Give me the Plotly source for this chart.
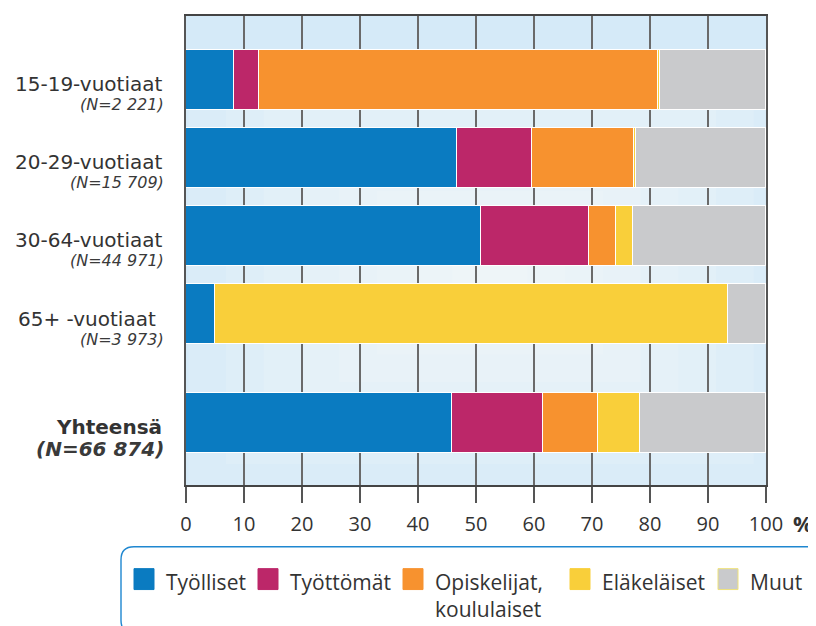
import plotly.graph_objects as go

# ---------------- data ----------------
groups = ["15-19-vuotiaat", "20-29-vuotiaat", "30-64-vuotiaat", "65+ -vuotiaat\u00a0", "Yhteensä"]
group_n = ["(N=2 221)", "(N=15 709)", "(N=44 971)", "(N=3 973)", "(N=66 874)"]
series_names = ["Työlliset", "Työttömät", "Opiskelijat,<br>koululaiset", "Eläkeläiset", "Muut"]
tyolliset = [8.3, 46.8, 50.8, 5.0, 45.8]
tyottomat = [4.3, 12.9, 18.7, 0.0, 15.7]
opiskelijat = [68.7, 17.5, 4.6, 0.0, 9.5]
elakelaiset = [0.4, 0.4, 2.9, 88.4, 7.2]
muut = [18.3, 22.4, 23.0, 6.6, 21.8]
x_ticks = [0, 10, 20, 30, 40, 50, 60, 70, 80, 90, 100]

series_values = [tyolliset, tyottomat, opiskelijat, elakelaiset, muut]

# ---------------- style ----------------
colors = ["#0a7bc1", "#bc2769", "#f7922f", "#f9cf3a", "#c9cacc"]
BG = "#d5eaf8"
OFF = 8  # page body margin of the html page
W, H = 816 - OFF, 626 - OFF
ML, MT = 186 - OFF, 14 - OFF
PW, PH = 580, 471
MR, MB = W - ML - PW, H - MT - PH
TOTAL_GAP = 1.4  # extra space before the total row

ypos = [i for i in range(len(groups) - 1)] + [len(groups) - 1 + TOTAL_GAP - 1]
y_range = [ypos[-1] + 0.79, -0.817]


def px_x(px):
    """screen pixel -> paper x"""
    return (px - OFF - ML) / PW


def px_y(py):
    """screen pixel -> paper y"""
    return (MT + PH - (py - OFF)) / PH


fig = go.Figure()
for name, vals, col in zip(series_names, series_values, colors):
    fig.add_trace(go.Bar(
        y=ypos, x=vals, name=name.replace("<br>", " "), orientation="h",
        marker=dict(color=col, line=dict(color="#ffffff", width=1.4)),
        width=0.766, showlegend=False, hoverinfo="x+name",
    ))

shapes = []
# soft light centre of the background
cx, cy = 52.4, 2.47
n_steps = 8
for k in range(n_steps, 0, -1):
    f = k / n_steps
    shapes.append(dict(
        type="rect", xref="x", yref="y", layer="below",
        x0=cx - 52 * f, x1=cx + 52 * f, y0=cy - 2.8 * f, y1=cy + 2.8 * f,
        fillcolor="#ffffff", opacity=0.12, line=dict(width=0),
    ))

# legend box (rounded)
bx0, bx1, by0, by1 = 121, 820, 547, 634
r = 13
rx, ry = r / PW, r / PH
X0, X1, Y0, Y1 = px_x(bx0), px_x(bx1), px_y(by0), px_y(by1)
path = (f"M {X0+rx},{Y0} L {X1-rx},{Y0} Q {X1},{Y0} {X1},{Y0-ry} "
        f"L {X1},{Y1+ry} Q {X1},{Y1} {X1-rx},{Y1} L {X0+rx},{Y1} "
        f"Q {X0},{Y1} {X0},{Y1+ry} L {X0},{Y0-ry} Q {X0},{Y0} {X0+rx},{Y0} Z")
shapes.append(dict(type="path", xref="paper", yref="paper", path=path,
                   line=dict(color="#1f87d0", width=1.4), fillcolor="rgba(0,0,0,0)"))

annotations = []
# legend items
legend_x_px = [134, 258, 403, 570, 718]
sq_w, sq_top, sq_bot = 20, 569, 590
for name, col, lx in zip(series_names, colors, legend_x_px):
    shapes.append(dict(
        type="rect", xref="paper", yref="paper",
        x0=px_x(lx), x1=px_x(lx + sq_w), y0=px_y(sq_bot), y1=px_y(sq_top),
        fillcolor=col, line=dict(color="#efe27a" if col == "#c9cacc" else col, width=1),
    ))
    annotations.append(dict(
        xref="paper", yref="paper", x=px_x(lx + 30), y=px_y(566),
        xanchor="left", yanchor="top", align="left", text=name, showarrow=False,
        font=dict(family="Open Sans", size=21, color="#333333"),
    ))

# row labels
for i, (g, n, yp) in enumerate(zip(groups, group_n, ypos)):
    is_total = i == len(groups) - 1
    if is_total:
        t1, t2 = f"<b>{g}</b>", f"<b><i>{n}</i></b>"
        s2, sh1, sh2 = 20, -3.5, -26
    else:
        t1, t2 = g, f"<i>{n}</i>"
        s2, sh1, sh2 = 16, -4.5, -25
    annotations.append(dict(xref="paper", yref="y", x=0, y=yp, xshift=-22, yshift=sh1,
                            xanchor="right", yanchor="middle", text=t1, showarrow=False,
                            font=dict(family="DejaVu Sans", size=20, color="#333333")))
    annotations.append(dict(xref="paper", yref="y", x=0, y=yp, xshift=-20, yshift=sh2,
                            xanchor="right", yanchor="middle", text=t2, showarrow=False,
                            font=dict(family="DejaVu Sans", size=s2, color="#3a3a3a")))

# percent sign
annotations.append(dict(xref="paper", yref="paper", x=1, y=0, xshift=25, yshift=-38,
                        xanchor="left", yanchor="middle", text="<b>%</b>", showarrow=False,
                        font=dict(family="Open Sans", size=22, color="#333333")))

fig.update_layout(
    width=W, height=H,
    margin=dict(l=ML, r=MR, t=MT, b=MB, pad=0),
    paper_bgcolor="#ffffff", plot_bgcolor=BG,
    barmode="stack", bargap=0,
    shapes=shapes, annotations=annotations,
    xaxis=dict(range=[0, 100], tickvals=x_ticks, ticktext=[str(v) for v in x_ticks],
               showgrid=True, gridcolor="#6a6a6a", gridwidth=1.5,
               showline=True, linecolor="#444444", linewidth=2, mirror=True,
               ticks="outside", ticklen=16, tickwidth=1.5, tickcolor="#555555",
               tickfont=dict(family="Open Sans", size=20, color="#333333"),
               ticklabelstandoff=4, zeroline=False, fixedrange=True),
    yaxis=dict(range=y_range, showticklabels=False, showgrid=False, zeroline=False,
               showline=True, linecolor="#555555", linewidth=2, mirror=True,
               ticks="", fixedrange=True),
    font=dict(family="Open Sans", color="#333333"),
)

fig.write_html("out.html")
